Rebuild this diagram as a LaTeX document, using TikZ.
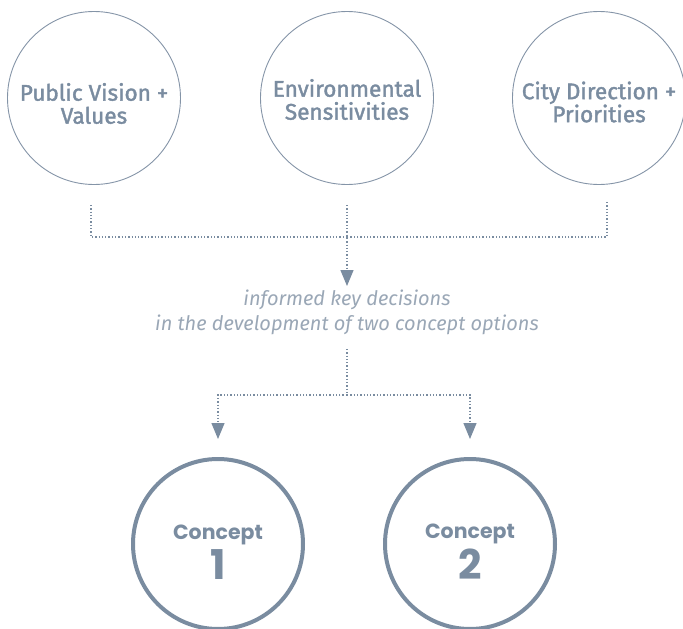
\documentclass[tikz,border=0pt]{standalone}
\usepackage{fontspec}
\usetikzlibrary{arrows.meta}
\newfontfamily\labelfont{Fira Sans}[FakeBold=1.6]
\newfontfamily\notefont{Fira Sans}
\newfontfamily\conceptfont{Poppins}
\definecolor{slate}{HTML}{7A8CA0}
\definecolor{notecol}{HTML}{9AA7B6}
\definecolor{slateline}{HTML}{8494A7}
\newcommand{\conceptlabel}[1]{{\conceptfont\bfseries\fontsize{20.5}{24}\selectfont Concept}\\[4pt]{\conceptfont\bfseries\fontsize{41}{41}\selectfont #1}}
\tikzset{
  topcircle/.style={circle, draw=slateline, line width=0.9pt, minimum size=173pt, inner sep=0pt},
  toplabel/.style={text=slate, align=center, font=\labelfont\fontsize{22.6}{23}\selectfont},
  conceptcircle/.style={circle, draw=slate, line width=4pt, minimum size=170pt, inner sep=0pt},
  conceptlabelstyle/.style={text=slate, align=center},
  link/.style={draw=slate, line width=1.3pt, dotted},
  linkarrow/.style={link, -{Triangle[width=13pt,length=16pt]}},
}
\begin{document}
\begin{tikzpicture}[x=1pt,y=-1pt]
\useasboundingbox (0,0) rectangle (683,629);
\node[topcircle] (c1) at (94,98) {};
\node[topcircle] (c2) at (347,98) {};
\node[topcircle] (c3) at (599,98) {};
\node[toplabel] (l1) at ([yshift=-5.5pt]c1.center) {Public Vision +\\Values};
\node[toplabel] (l2) at ([yshift=-1.5pt]c2.center) {Environmental\\Sensitivities};
\node[toplabel] (l3) at ([yshift=-4pt]c3.center) {City Direction +\\Priorities};
\coordinate (j) at (347,237);
\draw[link] ([yshift=-20pt]c1.south -| 91,0) |- (j);
\draw[link] ([yshift=-17pt]c3.south -| 607,0) |- (j);
\node[text=notecol, align=center, font=\notefont\itshape\fontsize{20}{25}\selectfont] (t) at (347,312)
  {informed key decisions\\in the development of two concept options};
\draw[linkarrow] ([yshift=-20pt]c2.south) -- (t.north);
\coordinate (k) at (347,395);
\node[conceptcircle] (cc1) at (218,544) {};
\node[conceptcircle] (cc2) at (470,544) {};
\node[conceptlabelstyle] (n1) at ([yshift=-8pt]cc1.center) {\conceptlabel{1}};
\node[conceptlabelstyle] (n2) at ([yshift=-8pt]cc2.center) {\conceptlabel{2}};
\draw[link] ([yshift=-11pt]t.south) -- (k);
\draw[linkarrow] (k) -| ([yshift=18pt]cc1.north);
\draw[linkarrow] (k) -| ([yshift=18pt]cc2.north);
\end{tikzpicture}
\end{document}
